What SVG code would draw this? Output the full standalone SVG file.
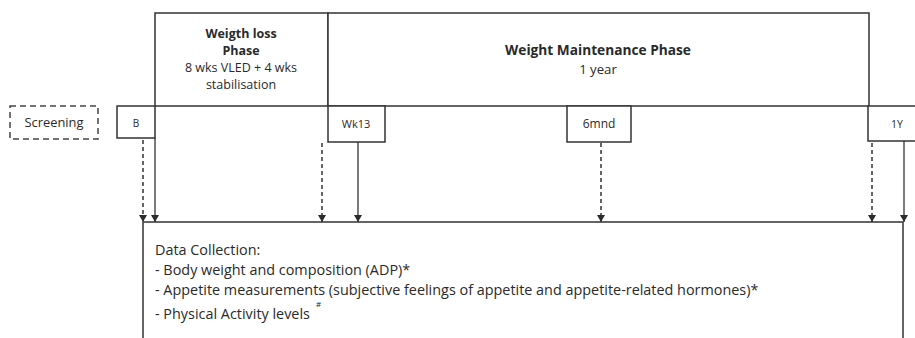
<svg xmlns="http://www.w3.org/2000/svg" width="915" height="338" viewBox="0 0 915 338">
<defs>
<marker id="ah" markerWidth="8" markerHeight="7" refX="4" refY="7" orient="0" markerUnits="userSpaceOnUse" viewBox="0 0 8 7">
<path d="M0,0 L8,0 L4,7 Z" fill="#2b2b2b"/>
</marker>
<style>
.box{fill:#fff;stroke:#333;stroke-width:1.5}
.dbox{fill:#fff;stroke:#444;stroke-width:1.5;stroke-dasharray:6,4}
.t{font-family:"Open Sans","Liberation Sans",sans-serif;fill:#2a2a2a}
.c{text-anchor:middle}
.b{font-weight:bold}
.sol{stroke:#333;stroke-width:1.3;fill:none}
.das{stroke:#333;stroke-width:1.5;fill:none;stroke-dasharray:4,3}
</style>
</defs>
<rect width="915" height="338" fill="#fff"/>
<g id="weight-loss-phase">
<rect class="box" x="155" y="13" width="173" height="93"/>
<text class="t c b" x="241" y="38" font-size="12.5">Weigth loss</text>
<text class="t c b" x="241" y="55" font-size="12.5">Phase</text>
<text class="t c" x="241" y="72" font-size="12.5">8 wks VLED + 4 wks</text>
<text class="t c" x="241" y="89" font-size="12.5">stabilisation</text>
</g>
<g id="weight-maintenance-phase">
<rect class="box" x="328" y="13" width="541" height="93"/>
<text class="t c b" x="598" y="55" font-size="13.7">Weight Maintenance Phase</text>
<text class="t c" x="598" y="74" font-size="13.2">1 year</text>
</g>
<g id="screening">
<rect class="dbox" x="10" y="106" width="88" height="33"/>
<text class="t c" x="54" y="127" font-size="12.9">Screening</text>
</g>
<g id="baseline">
<rect class="box" x="117" y="106" width="38" height="32"/>
<text class="t c" x="136" y="127" font-size="10">B</text>
</g>
<g id="wk13">
<rect class="box" x="328" y="106" width="57" height="36"/>
<text class="t c" x="356" y="128" font-size="11">Wk13</text>
</g>
<g id="6mnd">
<rect class="box" x="567" y="106" width="64" height="36"/>
<text class="t c" x="599" y="128" font-size="12">6mnd</text>
</g>
<g id="1y">
<rect class="box" x="868" y="106" width="50" height="35"/>
<text class="t c" x="897" y="128" font-size="10.5">1Y</text>
</g>
<g id="data-collection">
<rect class="box" x="143" y="222" width="760" height="130"/>
<text class="t" x="155" y="255" font-size="14.4">Data Collection:</text>
<text class="t" x="155" y="275" font-size="14.4">- Body weight and composition (ADP)*</text>
<text class="t" x="155" y="295" font-size="14.4">- Appetite measurements (subjective feelings of appetite and appetite-related hormones)*</text>
<text class="t" x="155" y="319" font-size="14.4">- Physical Activity levels</text>
<text class="t" x="316" y="307" font-size="8">#</text>
</g>
<g id="connectors">
<line class="das" x1="143" y1="140" x2="143" y2="222" marker-end="url(#ah)"/>
<line class="sol" x1="155" y1="138" x2="155" y2="222" marker-end="url(#ah)"/>
<line class="das" x1="322" y1="143" x2="322" y2="222" marker-end="url(#ah)"/>
<line class="sol" x1="358" y1="142" x2="358" y2="222" marker-end="url(#ah)"/>
<line class="das" x1="601" y1="143" x2="601" y2="222" marker-end="url(#ah)"/>
<line class="das" x1="872" y1="143" x2="872" y2="222" marker-end="url(#ah)"/>
<line class="sol" x1="904" y1="141" x2="904" y2="222" marker-end="url(#ah)"/>
</g>
</svg>
